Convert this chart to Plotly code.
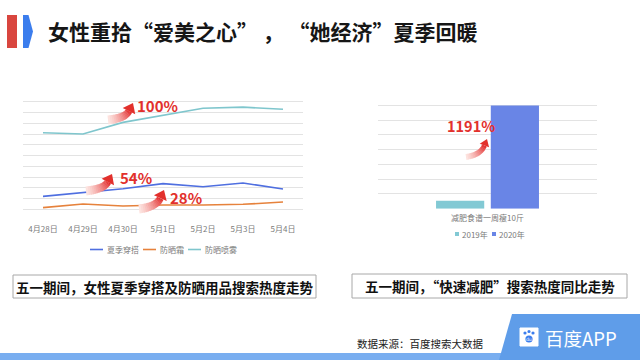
import math
import plotly.graph_objects as go

# ---------------- data ----------------
dates = ["4月28日", "4月29日", "4月30日", "5月1日", "5月2日", "5月3日", "5月4日"]
series_names = ["夏季穿搭", "防晒霜", "防晒喷雾"]
summer_wear = [2.2, 2.54, 2.91, 3.38, 3.1, 3.44, 2.88]
sunscreen = [1.15, 1.49, 1.3, 1.4, 1.4, 1.46, 1.67]
sun_spray = [8.12, 8.0, 9.08, 9.77, 10.39, 10.5, 10.3]

bar_category = ["减肥食谱一周瘦10斤"]
bar_years = ["2019年", "2020年"]
diet_2019 = [0.54]
diet_2020 = [7.0]

growth_labels = ["100%", "54%", "28%", "1191%"]

title_text = "女性重拾“爱美之心” ， “她经济”夏季回暖"
caption_left = "五一期间，女性夏季穿搭及防晒用品搜索热度走势"
caption_right = "五一期间，“快速减肥”搜索热度同比走势"
source_text = "数据来源：百度搜索大数据"
brand_text = "百度APP"

# ---------------- styles ----------------
W, H = 640, 360
FONT = "Noto Sans CJK SC"
C_BLUE = "#4f6fe0"
C_ORANGE = "#e6823c"
C_TEAL = "#7fc6cd"
C_BAR19 = "#82c9d4"
C_BAR20 = "#6985e6"
C_RED = "#e2302c"
GRID = "#e3e3e3"
TICK = "#7a7a7a"


def px(x, y):
    return x / W, 1 - y / H


fig = go.Figure()

line_data = [summer_wear, sunscreen, sun_spray]
line_colors = [C_BLUE, C_ORANGE, C_TEAL]
for name, vals, col in zip(series_names, line_data, line_colors):
    fig.add_trace(go.Scatter(x=dates, y=vals, name=name, mode="lines",
                             line=dict(color=col, width=1.6),
                             xaxis="x", yaxis="y", showlegend=False))

fig.add_trace(go.Bar(x=bar_category, y=diet_2019, name=bar_years[0],
                     marker=dict(color=C_BAR19, line=dict(width=0)),
                     xaxis="x2", yaxis="y2", showlegend=False))
fig.add_trace(go.Bar(x=bar_category, y=diet_2020, name=bar_years[1],
                     marker=dict(color=C_BAR20, line=dict(width=0)),
                     xaxis="x2", yaxis="y2", showlegend=False))

shapes = []
annotations = []

# header
x0, y0 = px(7, 15); x1, y1 = px(17, 48)
shapes.append(dict(type="rect", xref="paper", yref="paper", x0=x0, y0=y0, x1=x1, y1=y1,
                   fillcolor="#d9463f", line=dict(width=0)))
pts = [px(23, 15), px(28.5, 15), px(33, 31.5), px(28.5, 48), px(23, 48)]
path = "M " + " L ".join(f"{a:.5f},{b:.5f}" for a, b in pts) + " Z"
shapes.append(dict(type="path", xref="paper", yref="paper", path=path,
                   fillcolor="#3b7ded", line=dict(width=0)))
tx, ty = px(46, 31)
annotations.append(dict(text=title_text, xref="paper", yref="paper", x=tx, y=ty,
                        xanchor="left", yanchor="middle", showarrow=False,
                        font=dict(family=FONT, size=21, color="#161616", weight="bold")))

# caption boxes
for (bx0, by0, bx1, by1, txt) in [(13, 275, 316, 298, caption_left),
                                  (352, 274, 627, 298, caption_right)]:
    a0, b0 = px(bx0, by0); a1, b1 = px(bx1, by1)
    shapes.append(dict(type="rect", xref="paper", yref="paper", x0=a0, y0=b1, x1=a1, y1=b0,
                       fillcolor="white", line=dict(color="#a8a8a8", width=1)))
    cx, cy = px((bx0 + bx1) / 2, (by0 + by1) / 2)
    annotations.append(dict(text=txt, xref="paper", yref="paper", x=cx, y=cy,
                            xanchor="center", yanchor="middle", showarrow=False,
                            font=dict(family=FONT, size=13.5, color="#111111", weight="bold")))

# footer
a0, b0 = px(0, 353); a1, b1 = px(505, 360)
shapes.append(dict(type="rect", xref="paper", yref="paper", x0=a0, y0=b1, x1=a1, y1=b0,
                   fillcolor="#79aef0", line=dict(width=0)))
pts = [px(499, 360), px(512, 314), px(640, 314), px(640, 360)]
path = "M " + " L ".join(f"{a:.5f},{b:.5f}" for a, b in pts) + " Z"
shapes.append(dict(type="path", xref="paper", yref="paper", path=path,
                   fillcolor="#5f9de9", line=dict(width=0)))
# logo icon
a0, b0 = px(520, 328); a1, b1 = px(538, 346)
shapes.append(dict(type="rect", xref="paper", yref="paper", x0=a0, y0=b1, x1=a1, y1=b0,
                   fillcolor="white", line=dict(color="white", width=1)))
for (cx_, cy_, r) in [(525, 333, 1.6), (529, 331.5, 1.6), (533, 333, 1.6), (529, 339, 3.6)]:
    a0, b0 = px(cx_ - r, cy_ - r); a1, b1 = px(cx_ + r, cy_ + r)
    shapes.append(dict(type="circle", xref="paper", yref="paper", x0=a0, y0=b1, x1=a1, y1=b0,
                       fillcolor="#3b7ded", line=dict(width=0)))
cx, cy = px(529, 339.5)
annotations.append(dict(text="du", xref="paper", yref="paper", x=cx, y=cy, showarrow=False,
                        xanchor="center", yanchor="middle",
                        font=dict(family="DejaVu Sans", size=4.5, color="white")))
cx, cy = px(543, 338)
annotations.append(dict(text=brand_text, xref="paper", yref="paper", x=cx, y=cy,
                        xanchor="left", yanchor="middle", showarrow=False,
                        font=dict(family=FONT, size=18.5, color="white")))
cx, cy = px(355, 343)
annotations.append(dict(text=source_text, xref="paper", yref="paper", x=cx, y=cy,
                        xanchor="left", yanchor="middle", showarrow=False,
                        font=dict(family=FONT, size=10.5, color="#222222")))


# gradient arrows
def arrow(T, Hd, w0, w1, hw, hl, n=16):
    Tx, Ty = T
    Hx, Hy = Hd
    C = (Tx + 0.7 * (Hx - Tx), Ty - 0.12 * (Ty - Hy))
    ux, uy = Hx - C[0], Hy - C[1]
    L = math.hypot(ux, uy); ux, uy = ux / L, uy / L
    B = (Hx - ux * hl, Hy - uy * hl)

    def pt(t):
        return ((1 - t) ** 2 * Tx + 2 * (1 - t) * t * C[0] + t * t * B[0],
                (1 - t) ** 2 * Ty + 2 * (1 - t) * t * C[1] + t * t * B[1])

    def nrm(t):
        dx = 2 * (1 - t) * (C[0] - Tx) + 2 * t * (B[0] - C[0])
        dy = 2 * (1 - t) * (C[1] - Ty) + 2 * t * (B[1] - C[1])
        l = math.hypot(dx, dy)
        return -dy / l, dx / l

    out = []
    for i in range(n):
        t0, t1 = i / n, min(1, (i + 1.3) / n)
        p0, p1 = pt(t0), pt(t1)
        n0, n1 = nrm(t0), nrm(t1)
        wa = w0 + (w1 - w0) * t0
        wb = w0 + (w1 - w0) * t1
        q = [(p0[0] + n0[0] * wa / 2, p0[1] + n0[1] * wa / 2),
             (p1[0] + n1[0] * wb / 2, p1[1] + n1[1] * wb / 2),
             (p1[0] - n1[0] * wb / 2, p1[1] - n1[1] * wb / 2),
             (p0[0] - n0[0] * wa / 2, p0[1] - n0[1] * wa / 2)]
        f = ((i + 0.5) / n) ** 1.1
        r = int(254 + (226 - 254) * f)
        g = int(232 + (40 - 232) * f)
        b = int(228 + (40 - 228) * f)
        path = "M " + " L ".join("%.5f,%.5f" % px(*p) for p in q) + " Z"
        out.append(dict(type="path", xref="paper", yref="paper", path=path,
                        fillcolor=f"rgb({r},{g},{b})", line=dict(width=0), layer="above"))
    nb = nrm(1)
    tri = [(Hx, Hy), (B[0] + nb[0] * hw / 2, B[1] + nb[1] * hw / 2),
           (B[0] - nb[0] * hw / 2, B[1] - nb[1] * hw / 2)]
    path = "M " + " L ".join("%.5f,%.5f" % px(*p) for p in tri) + " Z"
    out.append(dict(type="path", xref="paper", yref="paper", path=path,
                    fillcolor=C_RED, line=dict(width=0), layer="above"))
    return out


shapes += arrow((108, 120), (133, 103), 9, 7, 14, 9)
shapes += arrow((86, 191), (112, 174), 9, 7, 14, 9)
shapes += arrow((139, 209), (164, 190), 9, 7, 14, 9)
shapes += arrow((466, 157), (487, 139), 6, 5, 10, 7)

for lbl, (cx_, cy_), sz in zip(growth_labels, [(135, 105), (118, 177), (168, 197), (445, 125)],
                               [15, 15, 15, 14.5]):
    cx, cy = px(cx_, cy_)
    annotations.append(dict(text=lbl, xref="paper", yref="paper", x=cx, y=cy,
                            xanchor="left", yanchor="middle", showarrow=False,
                            font=dict(family=FONT, size=sz, color=C_RED, weight="bold")))

# manual legends
leg_font = dict(family=FONT, size=8, color=TICK)
for name, col, lx in zip(series_names, line_colors, [90, 143, 188]):
    a0, b0 = px(lx, 249.5); a1, _ = px(lx + 13, 249.5)
    shapes.append(dict(type="line", xref="paper", yref="paper", x0=a0, y0=b0, x1=a1, y1=b0,
                       line=dict(color=col, width=1.6)))
    cx, cy = px(lx + 15, 249.5)
    annotations.append(dict(text=name, xref="paper", yref="paper", x=cx, y=cy,
                            xanchor="left", yanchor="middle", showarrow=False, font=leg_font))
for name, col, lx in zip(bar_years, [C_BAR19, C_BAR20], [455, 492]):
    a0, b0 = px(lx, 232); a1, b1 = px(lx + 4, 236)
    shapes.append(dict(type="rect", xref="paper", yref="paper", x0=a0, y0=b1, x1=a1, y1=b0,
                       fillcolor=col, line=dict(width=0)))
    cx, cy = px(lx + 5, 234)
    annotations.append(dict(text=name, xref="paper", yref="paper", x=cx, y=cy,
                            xanchor="left", yanchor="middle", showarrow=False, font=leg_font))

lx0, ly1 = px(23, 91); lx1, ly0 = px(303, 220)
rx0, ry1 = px(378, 90.7); rx1, ry0 = px(597, 208.7)

fig.update_layout(
    width=W, height=H,
    margin=dict(l=0, r=0, t=0, b=0),
    paper_bgcolor="white", plot_bgcolor="white",
    font=dict(family=FONT),
    shapes=shapes, annotations=annotations,
    barmode="group", bargap=0.5, bargroupgap=0.12,
    xaxis=dict(domain=[lx0, lx1], range=[-0.5, 6.5], showgrid=False, zeroline=False,
               showline=False, ticks="", tickfont=dict(family=FONT, size=8, color=TICK),
               ticklabelstandoff=3, fixedrange=True),
    yaxis=dict(domain=[ly0, ly1], range=[0, 12], dtick=1, showgrid=True, gridcolor=GRID,
               gridwidth=1, zeroline=False, showticklabels=False, showline=False,
               fixedrange=True),
    xaxis2=dict(domain=[rx0, rx1], anchor="y2", showgrid=False, zeroline=False,
                showline=False, ticks="", tickfont=dict(family=FONT, size=8, color=TICK),
                ticklabelstandoff=3, fixedrange=True),
    yaxis2=dict(domain=[ry0, ry1], anchor="x2", range=[0, 8], dtick=1, showgrid=True,
                gridcolor=GRID, gridwidth=1, zeroline=False, showticklabels=False,
                showline=False, fixedrange=True),
)

fig.write_html("out.html", config=dict(displayModeBar=False),
               post_script="document.body.style.margin='0';document.body.style.overflow='hidden';")
